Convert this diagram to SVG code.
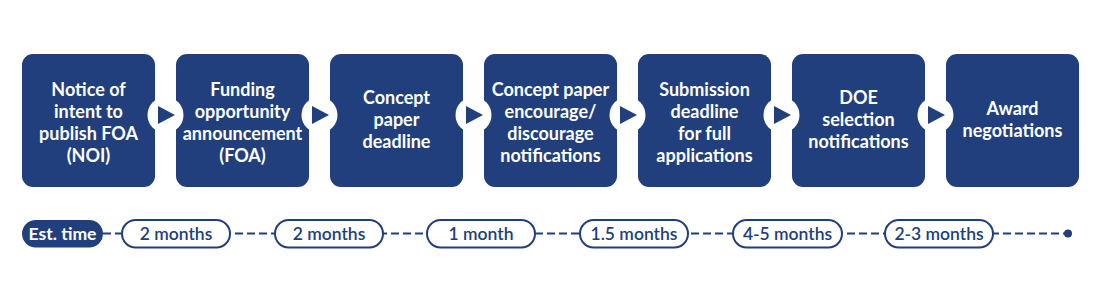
<svg xmlns="http://www.w3.org/2000/svg" width="1100" height="300" viewBox="0 0 1100 300">
<style>
.box{fill:#203f7c}
.bt{font-family:Lato,"Open Sans","Liberation Sans",sans-serif;font-weight:bold;font-size:18px;fill:#fff;text-anchor:middle}
.arrowc{fill:#fff}
.tri{fill:#203f7c}
.pill{fill:#fff;stroke:#203f7c;stroke-width:2}
.pt{font-family:Lato,"Open Sans","Liberation Sans",sans-serif;font-weight:600;font-size:17.5px;fill:#203f7c;text-anchor:middle}
.line{stroke:#203f7c;stroke-width:2.2;stroke-dasharray:8 4;fill:none}
</style>
<rect width="1100" height="300" fill="#fff"/>
<g id="connectors">
<line class="line" x1="103" y1="233.5" x2="1066" y2="233.5"/>
<circle cx="1068" cy="233.5" r="4" fill="#203f7c"/>
</g>
<g id="n1"><rect class="box" x="22" y="54" width="133" height="133" rx="11"/>
<text class="bt"><tspan x="88.5" y="95.5">Notice of</tspan><tspan x="88.5" y="117.5">intent to</tspan><tspan x="88.5" y="139.5">publish FOA</tspan><tspan x="88.5" y="161.5">(NOI)</tspan></text></g>
<g id="n2"><rect class="box" x="176" y="54" width="133" height="133" rx="11"/>
<text class="bt"><tspan x="242.5" y="95.5">Funding</tspan><tspan x="242.5" y="117.5">opportunity</tspan><tspan x="242.5" y="139.5">announcement</tspan><tspan x="242.5" y="161.5">(FOA)</tspan></text></g>
<g id="n3"><rect class="box" x="330" y="54" width="133" height="133" rx="11"/>
<text class="bt"><tspan x="396.5" y="103.5">Concept</tspan><tspan x="396.5" y="125.5">paper</tspan><tspan x="396.5" y="147.5">deadline</tspan></text></g>
<g id="n4"><rect class="box" x="484" y="54" width="133" height="133" rx="11"/>
<text class="bt"><tspan x="550.5" y="95.5">Concept paper</tspan><tspan x="550.5" y="117.5">encourage/</tspan><tspan x="550.5" y="139.5">discourage</tspan><tspan x="550.5" y="161.5">notifications</tspan></text></g>
<g id="n5"><rect class="box" x="638" y="54" width="133" height="133" rx="11"/>
<text class="bt"><tspan x="704.5" y="95.5">Submission</tspan><tspan x="704.5" y="117.5">deadline</tspan><tspan x="704.5" y="139.5">for full</tspan><tspan x="704.5" y="161.5">applications</tspan></text></g>
<g id="n6"><rect class="box" x="792" y="54" width="133" height="133" rx="11"/>
<text class="bt"><tspan x="858.5" y="103.5">DOE</tspan><tspan x="858.5" y="125.5">selection</tspan><tspan x="858.5" y="147.5">notifications</tspan></text></g>
<g id="n7"><rect class="box" x="946" y="54" width="133" height="133" rx="11"/>
<text class="bt"><tspan x="1012.5" y="115">Award</tspan><tspan x="1012.5" y="137">negotiations</tspan></text></g>
<g id="arrows">
<circle class="arrowc" cx="165.5" cy="115" r="18"/><polygon class="tri" points="158,106 175,115 158,124"/>
<circle class="arrowc" cx="319.5" cy="115" r="18"/><polygon class="tri" points="312,106 329,115 312,124"/>
<circle class="arrowc" cx="473.5" cy="115" r="18"/><polygon class="tri" points="466,106 483,115 466,124"/>
<circle class="arrowc" cx="627.5" cy="115" r="18"/><polygon class="tri" points="620,106 637,115 620,124"/>
<circle class="arrowc" cx="781.5" cy="115" r="18"/><polygon class="tri" points="774,106 791,115 774,124"/>
<circle class="arrowc" cx="935.5" cy="115" r="18"/><polygon class="tri" points="928,106 945,115 928,124"/>
</g>
<g id="est"><rect x="22" y="220" width="81" height="27.5" rx="13.75" fill="#203f7c"/>
<text class="pt" x="62.5" y="239.5" style="fill:#fff;font-weight:bold">Est. time</text></g>
<g id="p1"><rect class="pill" x="122" y="220" width="108" height="27.5" rx="13.75"/><text class="pt" x="176" y="239.5">2 months</text></g>
<g id="p2"><rect class="pill" x="275" y="220" width="108" height="27.5" rx="13.75"/><text class="pt" x="329" y="239.5">2 months</text></g>
<g id="p3"><rect class="pill" x="427" y="220" width="108" height="27.5" rx="13.75"/><text class="pt" x="481" y="239.5">1 month</text></g>
<g id="p4"><rect class="pill" x="580" y="220" width="108" height="27.5" rx="13.75"/><text class="pt" x="634" y="239.5">1.5 months</text></g>
<g id="p5"><rect class="pill" x="733" y="220" width="109" height="27.5" rx="13.75"/><text class="pt" x="787.5" y="239.5">4-5 months</text></g>
<g id="p6"><rect class="pill" x="885" y="220" width="108" height="27.5" rx="13.75"/><text class="pt" x="939" y="239.5">2-3 months</text></g>
</svg>
